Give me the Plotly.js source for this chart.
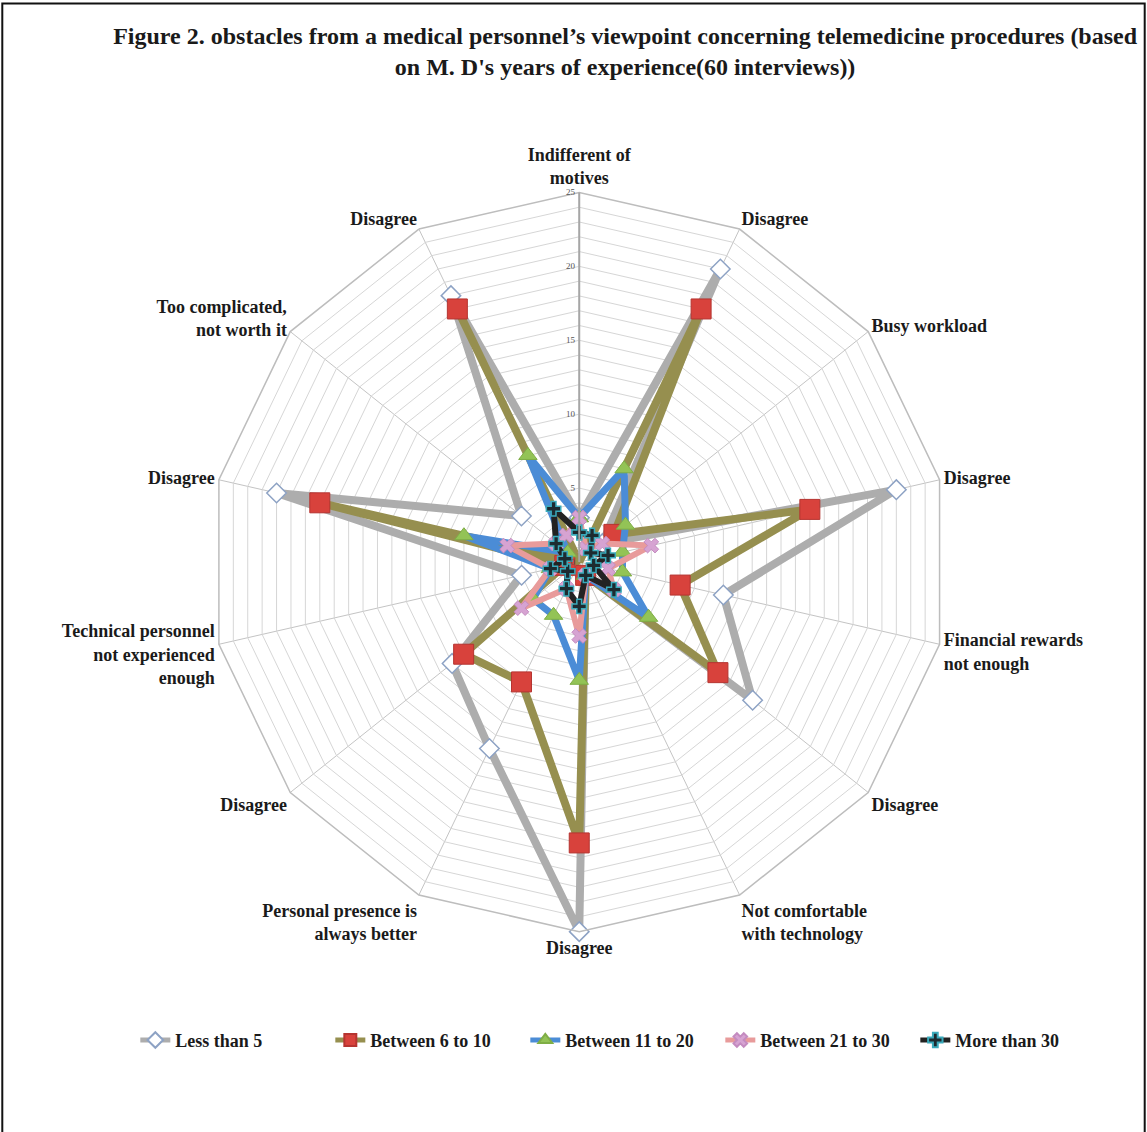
<!DOCTYPE html>
<html>
<head>
<meta charset="utf-8">
<script src="https://cdn.plot.ly/plotly-3.0.1.min.js"></script>
<style>
  html, body { margin: 0; padding: 0; background: #ffffff; }
  #chart { width: 1147px; height: 1132px; }
</style>
</head>
<body>
<div id="chart"></div>
<script>
// Obstacle categories, clockwise from the top spoke
var categories = [
  "Indifferent of<br>motives",
  "Disagree",
  "Busy workload",
  "Disagree",
  "Financial rewards<br>not enough",
  "Disagree",
  "Not comfortable<br>with technology",
  "Disagree",
  "Personal presence is<br>always better",
  "Disagree",
  "Technical personnel<br>not experienced<br>enough",
  "Disagree",
  "Too complicated,<br>not worth it",
  "Disagree"
];

// Answers per group of years of experience
var lessThan5     = [3, 22, 2, 22, 10, 15, 1, 25, 14, 11, 4, 21, 5, 20];
var between6to10  = [0, 19, 3, 16, 7, 12, 1, 19, 9, 10, 1, 18, 0, 19];
var between11to20 = [3, 7, 4, 3, 3, 6, 1, 8, 4, 4, 2, 8, 1, 8];
var between21to30 = [3, 1, 2, 5, 2, 3, 1, 5, 2, 5, 2, 5, 2, 2];
var moreThan30    = [2, 2, 1, 2, 1, 3, 1, 3, 2, 1, 2, 1, 2, 4];

var seriesNames = ["Less than 5", "Between 6 to 10", "Between 11 to 20", "Between 21 to 30", "More than 30"];

// "Disagree" appears several times: give each spoke a distinct key
var thetaKeys = categories.map(function (c, i) {
  return c + "\u200b".repeat(i);
});

function closed(arr) { return arr.concat([arr[0]]); }

var styles = [
  { line: { color: "#adadad", width: 8 },
    marker: { symbol: "diamond", size: 15, color: "#ffffff", line: { color: "#8da2c4", width: 1.5 } } },
  { line: { color: "#968f4f", width: 8 },
    marker: { symbol: "square", size: 20, color: "#d8423c", line: { color: "#b53430", width: 1 } } },
  { line: { color: "#4b8cd6", width: 7 },
    marker: { symbol: "triangle-up", size: 16, color: "#93c356", line: { color: "#7fae45", width: 1 } } },
  { line: { color: "#e89b9b", width: 6 },
    marker: { symbol: "x", size: 13, color: "#d6a3d2", line: { color: "#c48bc0", width: 1 } } },
  { line: { color: "#222222", width: 6 },
    marker: { symbol: "cross", size: 12, color: "#1d2b30", line: { color: "#3aaabb", width: 1.5 } } }
];

var allSeries = [lessThan5, between6to10, between11to20, between21to30, moreThan30];

var traces = allSeries.map(function (vals, k) {
  return {
    type: "scatterpolar",
    mode: "lines+markers",
    name: seriesNames[k],
    r: closed(vals),
    theta: closed(thetaKeys),
    line: styles[k].line,
    marker: styles[k].marker,
    hoverinfo: "name+r"
  };
});

var radialTicks = [];
var radialText = [];
for (var v = 0; v <= 25; v++) {
  radialTicks.push(v);
  radialText.push(v % 5 === 0 ? String(v) : "");
}

var serif = "Liberation Serif, Times New Roman, serif";

var layout = {
  width: 1147,
  height: 1132,
  margin: { l: 0, r: 0, t: 0, b: 0 },
  paper_bgcolor: "#ffffff",
  showlegend: true,
  title: {
    text: "<b>Figure 2. obstacles from a medical personnel\u2019s viewpoint concerning telemedicine procedures (based<br>on M. D's years of experience(60 interviews))</b>",
    font: { family: serif, size: 24, color: "#1a1a1a" },
    x: 0.545,
    xanchor: "center",
    y: 0.961,
    yanchor: "middle",
    yref: "container"
  },
  polar: {
    domain: { x: [0.182, 0.828], y: [0.177, 0.830] },
    bgcolor: "#ffffff",
    gridshape: "linear",
    radialaxis: {
      range: [0, 25],
      tickmode: "array",
      tickvals: radialTicks,
      ticktext: radialText,
      angle: 90,
      tickangle: 90,
      side: "counterclockwise",
      showline: true,
      linecolor: "#a6a6a6",
      linewidth: 2,
      gridcolor: "#d6d6d6",
      gridwidth: 1,
      ticks: "",
      tickfont: { family: serif, size: 9, color: "#555555" }
    },
    angularaxis: {
      type: "category",
      categoryarray: thetaKeys,
      rotation: 90,
      direction: "clockwise",
      showline: true,
      linecolor: "#bdbdbd",
      linewidth: 1.5,
      gridcolor: "#c4c4c4",
      gridwidth: 1,
      ticks: "",
      tickfont: { family: serif, size: 18, color: "#1a1a1a", weight: "bold" }
    }
  },
  legend: {
    orientation: "h",
    x: 0.543,
    xanchor: "center",
    y: 0.081,
    yanchor: "middle",
    itemsizing: "constant",
    entrywidth: 150,
    entrywidthmode: "pixels",
    font: { family: serif, size: 18, color: "#1a1a1a", weight: "bold" },
    bgcolor: "rgba(0,0,0,0)"
  },
  shapes: [
    { type: "rect", xref: "paper", yref: "paper", x0: 0.002, x1: 0.998, y0: -0.01, y1: 0.997,
      line: { color: "#111111", width: 2 }, fillcolor: "rgba(0,0,0,0)" }
  ]
};

Plotly.newPlot("chart", traces, layout, { displayModeBar: false, staticPlot: true });
</script>
</body>
</html>
